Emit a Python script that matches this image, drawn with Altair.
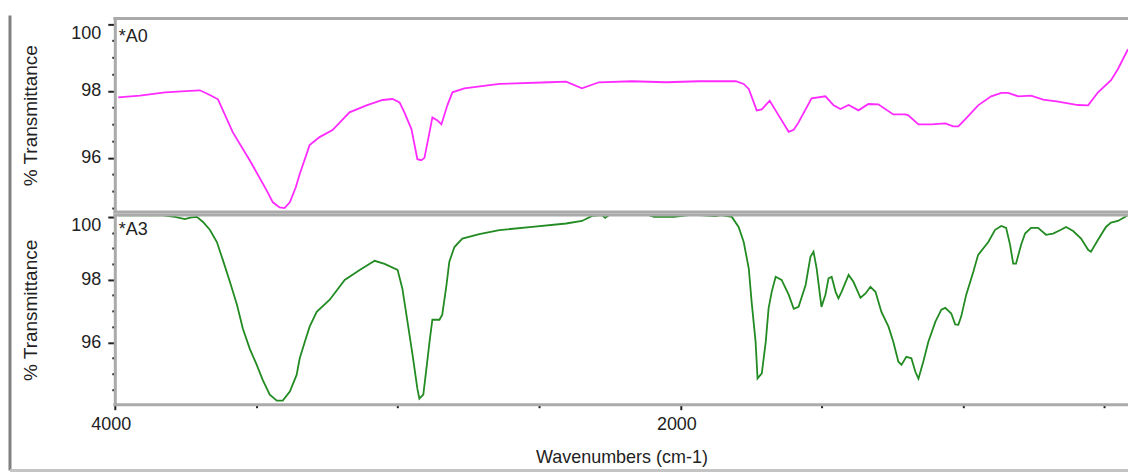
import altair as alt
import pandas as pd

# Sample A0: wavenumber (cm-1) and % transmittance
a0_wn = [3988, 3911, 3822, 3734, 3699, 3664, 3635, 3583, 3523, 3463, 3441, 3417, 3400,
         3381, 3360, 3346, 3311, 3276, 3230, 3170, 3110, 3053, 3018, 2993, 2976, 2951,
         2930, 2916, 2905, 2887, 2877, 2859, 2845, 2824, 2806, 2764, 2640, 2464, 2404,
         2348, 2288, 2171, 2051, 1935, 1804, 1776, 1758, 1730, 1712, 1684, 1659, 1617,
         1599, 1582, 1536, 1487, 1458, 1434, 1405, 1370, 1335, 1300, 1247, 1204, 1194,
         1158, 1112, 1063, 1035, 1017, 992, 947, 901, 865, 841, 805, 760, 717, 664, 594,
         558, 523, 477, 453, 417]
a0_t = [97.81, 97.86, 97.96, 98.00, 98.02, 97.88, 97.75, 96.77, 95.93, 95.03, 94.67, 94.52, 94.50,
        94.67, 95.12, 95.52, 96.38, 96.62, 96.83, 97.36, 97.57, 97.73, 97.76, 97.66, 97.36, 96.86,
        95.96, 95.93, 96.00, 96.77, 97.21, 97.12, 97.00, 97.57, 97.96, 98.08, 98.21, 98.26, 98.28,
        98.08, 98.26, 98.29, 98.26, 98.29, 98.29, 98.21, 98.06, 97.42, 97.45, 97.71, 97.36, 96.78,
        96.84, 97.06, 97.78, 97.84, 97.57, 97.46, 97.58, 97.42, 97.61, 97.60, 97.30, 97.30, 97.27,
        97.00, 97.00, 97.03, 96.94, 96.94, 97.16, 97.57, 97.84, 97.94, 97.94, 97.84, 97.86, 97.74, 97.68, 97.58,
        97.57, 97.96, 98.32, 98.65, 99.25]

# Sample A3: wavenumber (cm-1) and % transmittance
a3_wn = [3988, 3830, 3787, 3752, 3734, 3710, 3688, 3664, 3639, 3618, 3593, 3568, 3547,
         3523, 3498, 3477, 3452, 3427, 3406, 3381, 3357, 3346, 3328, 3311, 3286, 3240,
         3187, 3134, 3081, 3046, 3000, 2983, 2965, 2947, 2930, 2923, 2909, 2898, 2887,
         2877, 2852, 2842, 2827, 2817, 2799, 2771, 2711, 2640, 2524, 2404, 2348, 2312,
         2277, 2266, 2252, 2111, 2093, 2023, 1970, 1935, 1875, 1857, 1818, 1794, 1776,
         1758, 1748, 1734, 1727, 1712, 1698, 1688, 1677, 1663, 1642, 1617, 1599, 1582,
         1557, 1540, 1529, 1518, 1501, 1487, 1476, 1465, 1451, 1441, 1430, 1405, 1388,
         1363, 1345, 1328, 1310, 1289, 1264, 1247, 1229, 1218, 1201, 1183, 1169, 1158,
         1141, 1123, 1098, 1077, 1063, 1042, 1028, 1017, 1007, 989, 964, 947, 911, 887,
         865, 848, 834, 823, 813, 795, 781, 760, 735, 707, 682, 654, 636, 611, 583, 558,
         548, 523, 495, 477, 453, 428, 417]
a3_t = [100.05, 100.05, 100.00, 99.93, 99.98, 100.00, 99.84, 99.59, 99.20, 98.63, 97.93, 97.20, 96.43,
        95.80, 95.28, 94.80, 94.33, 94.14, 94.14, 94.43, 94.96, 95.49, 96.02, 96.50, 96.97, 97.36,
        97.99, 98.31, 98.60, 98.50, 98.31, 97.71, 96.66, 95.60, 94.52, 94.20, 94.33, 95.16, 96.02,
        96.72, 96.72, 96.88, 97.83, 98.57, 99.04, 99.31, 99.45, 99.58, 99.68, 99.79, 99.87, 100.03,
        100.06, 99.97, 100.06, 100.06, 100.00, 100.00, 100.06, 100.06, 100.03, 100.06, 100.00, 99.68, 99.20,
        98.35, 97.29, 96.02, 94.85, 95.01, 96.02, 97.08, 97.61, 98.09, 97.99, 97.52, 97.07, 97.13,
        97.83, 98.73, 98.89, 98.35, 97.13, 97.52, 98.04, 98.09, 97.61, 97.40, 97.61, 98.15, 97.93,
        97.42, 97.56, 97.77, 97.61, 96.97, 96.50, 96.02, 95.38, 95.28, 95.54, 95.49, 95.06, 94.84,
        95.38, 96.02, 96.66, 97.04, 97.10, 96.92, 96.57, 96.56, 96.82, 97.52, 98.25, 98.79, 99.20, 99.59,
        99.71, 99.65, 99.11, 98.51, 98.51, 99.11, 99.47, 99.65, 99.65, 99.43, 99.47, 99.59, 99.68, 99.55, 99.31, 98.95,
        98.89, 99.27, 99.68, 99.82, 99.87, 100.00, 100.07]

x_ticks = [4000, 3500, 3000, 2500, 2000, 1500, 1000, 500]
y_ticks = [94.5, 95, 95.5, 96, 96.5, 97, 97.5, 98, 98.5, 99, 99.5, 100]

W = 1015
H_TOP = 194
H_BOT = 190
SPACING = 3
FONT = "Liberation Sans"
BORDER = "#aaaaaa"

x_dom = [4000, 417]

one = pd.DataFrame({"k": [0]})


def y_axis():
    return alt.Axis(
        values=y_ticks,
        labelExpr="datum.value % 2 === 0 ? format(datum.value, 'd') : ''",
        tickSize={"condition": {"test": "datum.value % 2 === 0", "value": 7}, "value": 3},
        tickColor="#222222",
        tickWidth=2,
        labelPadding=7,
        labelFlush=8,
        grid=False,
        domainColor=BORDER,
        domainWidth=3,
        title="% Transmittance",
        titlePadding=30,
        titleFontSize=19,
        titleFontWeight="normal",
    )


def panel(wn, t, color, tag, y_dom, h, show_x, extra=None):
    df = pd.DataFrame({"wn": wn, "t": t})
    if show_x:
        xax = alt.Axis(
            values=x_ticks,
            labelExpr="datum.value % 2000 === 0 ? format(datum.value, 'd') : ''",
            tickSize={"condition": {"test": "datum.value % 2000 === 0", "value": 5}, "value": 3},
            tickColor="#222222",
            tickWidth=2,
            labelPadding=6,
            labelOffset=-4,
            labelFlush=False,
            domain=False,
            grid=False,
            title="Wavenumbers (cm-1)",
            titlePadding=15,
            titleFontSize=18,
            titleFontWeight="normal",
        )
    else:
        xax = None
    line = alt.Chart(df).mark_line(color=color, strokeWidth=1.8, clip=True).encode(
        x=alt.X("wn:Q", scale=alt.Scale(domain=x_dom, nice=False, zero=False), axis=xax),
        y=alt.Y("t:Q", scale=alt.Scale(domain=y_dom, nice=False, zero=False), axis=y_axis()),
    )
    top_border = alt.Chart(one).mark_rule(color=BORDER, strokeWidth=3).encode(
        x=alt.value(-1.5), x2=alt.value(W), y=alt.value(0)
    )
    bottom_border = alt.Chart(one).mark_rule(color=BORDER, strokeWidth=3).encode(
        x=alt.value(-1.5), x2=alt.value(W), y=alt.value(h)
    )
    label = alt.Chart(one).mark_text(
        text=tag, align="left", baseline="middle", fontSize=18, font=FONT, color="#222222"
    ).encode(x=alt.value(4), y=alt.value(19 if h == H_TOP else 15))
    layers = [line, top_border, bottom_border, label]
    if extra:
        layers += extra
    return alt.layer(*layers).properties(width=W, height=h)


# outer frame of the report window
frame_left = alt.Chart(one).mark_rule(color="#808080", strokeWidth=3).encode(
    x=alt.value(-105), y=alt.value(-(H_TOP + SPACING + 3)), y2=alt.value(H_BOT + 66)
)
frame_bottom = alt.Chart(one).mark_rule(color="#c4c4c4", strokeWidth=3).encode(
    x=alt.value(-105), x2=alt.value(W), y=alt.value(H_BOT + 66)
)

top = panel(a0_wn, a0_t, "#ff2aff", "*A0", [94.38, 100.17], H_TOP, False)
bottom = panel(a3_wn, a3_t, "#228b22", "*A3", [94.01, 100.06], H_BOT, True,
               extra=[frame_left, frame_bottom])

chart = alt.vconcat(top, bottom, spacing=SPACING, bounds="flush").resolve_scale(
    y="independent"
).properties(
    padding={"left": 8, "top": 13, "right": 0, "bottom": 0},
    background="white",
).configure_view(stroke=None).configure_axis(
    labelFont=FONT, titleFont=FONT, labelFontSize=18, labelColor="#222222", titleColor="#222222"
)

chart.save("out.html", embed_options={"renderer": "svg", "actions": False})
